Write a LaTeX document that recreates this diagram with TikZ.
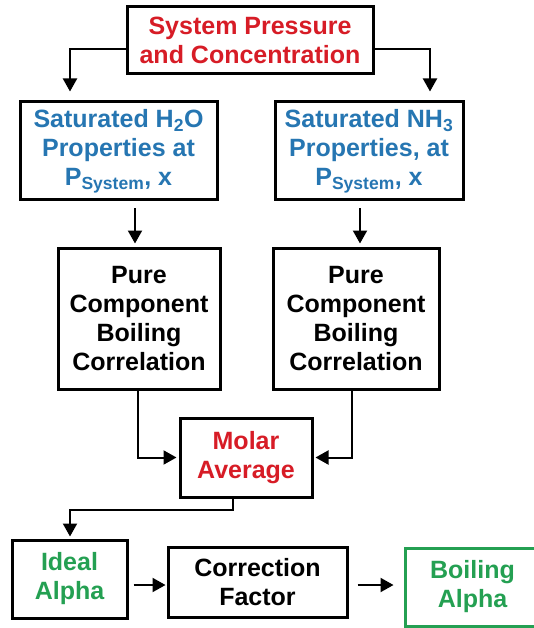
\documentclass[tikz,border=0pt]{standalone}
\usepackage{fontspec}
\setmainfont{Liberation Sans}
\usetikzlibrary{arrows.meta}
\definecolor{cred}{RGB}{215,28,38}
\definecolor{cblue}{RGB}{38,118,178}
\definecolor{cgreen}{RGB}{36,160,82}
\begin{document}
\begin{tikzpicture}[x=1pt,y=-1pt,
  box/.style={draw=black,line width=3pt,inner sep=0pt,align=center,
    font=\bfseries\fontsize{25}{29}\selectfont},
  arr/.style={line width=2pt,-{Triangle[length=13pt,width=14pt]}}]
\useasboundingbox (0,0) rectangle (534,628);
\clip (0,0) rectangle (534,628);
\fill[white] (0,0) rectangle (534,628);
% boxes
\node[box,text=cred,minimum width=246pt,minimum height=67pt] (top) at (250,40.5)
  {System Pressure\\and Concentration};
\node[box,text=cblue,minimum width=197pt,minimum height=98pt] (h2o) at (118.5,151)
  {Saturated H\textsubscript{2}O\\Properties at\\P\textsubscript{System}, x};
\node[box,text=cblue,minimum width=188pt,minimum height=98pt] (nh3) at (369,151)
  {Saturated NH\textsubscript{3}\\Properties, at\\P\textsubscript{System}, x};
\node[box,minimum width=162pt,minimum height=141pt] (pure1) at (139,318.5)
  {Pure\\Component\\Boiling\\Correlation};
\node[box,minimum width=166pt,minimum height=141pt] (pure2) at (356,318.5)
  {Pure\\Component\\Boiling\\Correlation};
\node[box,text=cred,minimum width=132pt,minimum height=79pt] (molar) at (246,457.5)
  {Molar\\Average};
\node[box,text=cgreen,minimum width=115pt,minimum height=78pt] (ideal) at (69.5,579)
  {Ideal\\Alpha};
\node[box,minimum width=179pt,minimum height=70pt] (corr) at (257.5,582)
  {Correction\\Factor};
\node[box,draw=cgreen,text=cgreen,minimum width=135pt,minimum height=78pt] (boil) at (472.5,587)
  {Boiling\\Alpha};
% connectors
\draw[arr,shorten >=9pt] ([yshift=-8.5pt]top.west) -| ([xshift=-48.5pt]h2o.north);
\draw[arr,shorten >=9pt] ([yshift=-8.5pt]top.east) -| ([xshift=61pt]nh3.north);
\draw[arr,shorten <=7pt,shorten >=3pt] ([xshift=16.5pt]h2o.south) -- ([xshift=16.5pt]h2o.south |- pure1.north);
\draw[arr,shorten <=7pt,shorten >=3pt] ([xshift=-9pt]nh3.south) -- ([xshift=-9pt]nh3.south |- pure2.north);
\draw[arr,shorten >=2pt] ([xshift=-1pt]pure1.south) |- (molar.west);
\draw[arr,shorten >=2pt] ([xshift=-4pt]pure2.south) |- (molar.east);
\draw[arr,shorten >=2pt] ([xshift=-13pt]molar.south) -- ++(0,11) -| ([xshift=0.5pt]ideal.north);
\draw[arr,shorten <=5pt,shorten >=1pt] ([yshift=-3pt]corr.west -| ideal.east) -- ([yshift=-3pt]corr.west);
\draw[arr,shorten <=9pt,shorten >=10pt] ([yshift=-3pt]corr.east) -- ([yshift=-3pt]corr.east -| boil.west);
\end{tikzpicture}
\end{document}
